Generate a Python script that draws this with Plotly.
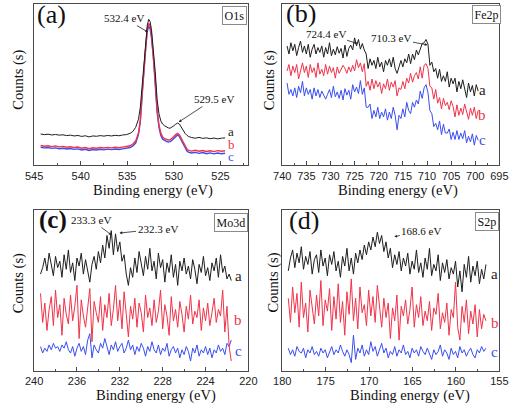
import plotly.graph_objects as go

# ---------------- data ----------------
# (a) O1s
o1s_energy = [544.3, 543.9, 543.5, 543.1, 542.7, 542.3, 541.9, 541.5, 541.1, 540.7,
              540.3, 539.9, 539.5, 539.1, 538.7, 538.3, 537.9, 537.5, 537.1, 536.7,
              536.3, 535.9, 535.5, 535.1, 534.7, 534.4, 534.1, 533.8, 533.6, 533.4,
              533.2, 533.0, 532.85, 532.7, 532.55, 532.4, 532.2, 532.0, 531.8, 531.6,
              531.4, 531.2, 531.0, 530.8, 530.6, 530.4, 530.2, 530.0, 529.8, 529.6,
              529.4, 529.2, 529.0, 528.8, 528.6, 528.4, 528.1, 527.7, 527.3, 526.9,
              526.5, 526.1, 525.7, 525.3, 524.9, 524.5]
o1s_a = [19.4, 19.0, 19.3, 18.8, 19.1, 18.7, 18.9, 18.4, 18.7, 18.2,
         18.5, 17.9, 18.3, 17.6, 18.2, 18.0, 18.4, 18.1, 18.5, 18.2,
         18.6, 18.3, 18.8, 19.0, 19.8, 21.0, 23.5, 28.5, 36.0, 50.0,
         66.0, 80.0, 87.0, 90.5, 89.0, 84.0, 73.0, 58.0, 41.0, 32.0,
         27.5, 25.5, 24.5, 23.8, 23.2, 23.0, 23.6, 24.5, 25.5, 26.2,
         25.5, 23.5, 21.5, 19.8, 18.6, 17.8, 17.2, 16.8, 17.3, 16.7,
         17.0, 16.5, 16.9, 16.4, 16.8, 17.0]
o1s_b = [12.3, 11.8, 12.1, 11.6, 12.0, 11.4, 11.7, 11.2, 11.5, 11.0,
         11.3, 10.6, 11.0, 10.3, 10.9, 10.6, 11.0, 10.7, 11.1, 10.8,
         11.2, 10.9, 11.3, 11.6, 12.1, 13.2, 15.0, 20.0, 28.0, 45.0,
         62.0, 77.0, 85.0, 88.0, 86.5, 81.0, 69.0, 53.0, 35.0, 25.0,
         20.0, 17.5, 16.5, 16.0, 15.7, 15.8, 16.6, 17.8, 19.0, 19.8,
         18.8, 16.5, 13.8, 11.5, 10.0, 9.2, 8.8, 9.3, 8.7, 9.2,
         8.6, 9.0, 8.5, 9.1, 8.7, 9.0]
o1s_c = [11.2, 10.8, 11.0, 10.5, 10.8, 10.3, 10.6, 10.1, 10.4, 9.9,
         10.2, 9.5, 9.9, 9.2, 9.8, 9.5, 9.9, 9.6, 10.0, 9.7,
         10.1, 9.8, 10.2, 10.5, 11.0, 12.0, 13.8, 19.0, 27.0, 44.0,
         61.0, 75.0, 83.0, 86.4, 84.5, 79.0, 67.0, 51.0, 33.0, 23.5,
         18.5, 16.2, 15.2, 14.8, 14.5, 14.7, 15.5, 16.8, 18.0, 18.8,
         17.8, 15.5, 12.6, 10.3, 8.8, 8.0, 7.6, 8.0, 7.4, 7.9,
         7.2, 7.7, 7.1, 7.6, 7.2, 7.5]

# (b) Fe2p  (scan start / step in eV)
fe_start, fe_step = 739.0, 0.4
fe2p_a = [74, 69, 76, 71, 75, 68, 73, 77, 70, 74,
          69, 75, 67, 72, 75, 69, 73, 70, 74, 67,
          73, 69, 76, 68, 72, 68.5, 73.5, 69.5, 72.5, 66.5,
          74.5, 67.5, 72.5, 74.5, 71.5, 79, 74, 78, 72, 75.5,
          71.5, 69, 60, 66, 62, 65, 60, 67, 61, 64,
          58, 65, 62, 66, 61, 67, 60, 57, 61, 65,
          61, 66, 63.5, 69, 63, 69, 65.5, 71.5, 68.5, 72.5,
          75.5, 76, 78, 75, 62, 64, 58, 60, 54, 59.5,
          52, 55.5, 52, 58, 48.5, 54, 50.5, 54, 45.5, 52,
          47.5, 53, 47.5, 42, 51, 45.5, 49.5, 43, 50, 46]
fe2p_b = [58.5, 62.5, 55.5, 61.5, 57.5, 62.5, 53.5, 58.5, 63.5, 57.5,
          61.5, 54.5, 62.5, 57.5, 60.5, 54.5, 63.5, 56.5, 59.5, 55.5,
          62.5, 56.5, 61.5, 57.5, 60.5, 54, 61, 57, 60, 62,
          60, 57, 61, 58, 62, 58.5, 65.5, 60.5, 63.5, 58,
          63, 49, 52, 46.5, 53.5, 47.5, 52.5, 48.5, 51.5, 44.5,
          50.5, 47.5, 53.5, 46.5, 51.5, 48.5, 52.5, 43, 48, 47,
          52, 47.5, 54, 51, 57, 51.5, 55.5, 57.5, 53.5, 61,
          54, 62, 63, 60, 49, 48, 41, 47, 38.5, 42,
          35, 41.5, 37, 39, 34.5, 40, 36.5, 30, 37.5, 31,
          35.5, 31.5, 38, 34, 28.5, 35.5, 31, 36, 29, 34]
fe2p_c = [51, 44, 47, 43, 48, 42, 49, 45, 52, 43,
          48, 44, 47, 41, 48, 43, 47, 42, 46, 43,
          41, 44, 47, 42, 49, 42.5, 45.5, 41.5, 46.5, 40.5,
          47.5, 43.5, 46.5, 41, 50, 45.5, 48.5, 44.5, 52.5, 44,
          48, 36, 36, 38, 29, 34, 30, 36, 29, 33,
          30, 35, 28, 33, 29, 36, 31, 22, 31, 29,
          35, 30, 39, 34, 32, 39, 36, 40.5, 38, 46,
          41.5, 48, 50, 45, 34, 32, 24, 26, 22, 27.5,
          19, 25.5, 20, 20, 22.5, 16, 20.5, 16, 21.5, 16,
          20, 16.5, 21.5, 14, 18, 14.5, 19.5, 12.5, 18.5, 15.5]

# (c) Mo3d
mo_start, mo_step = 239.4, 0.2
mo3d_a = [60, 64, 70, 62, 73, 66, 59, 71, 64, 68,
          58, 72, 63, 75, 61, 67, 56, 70, 65, 73,
          60, 69, 62, 55, 66, 71, 63, 74, 67, 78,
          70, 84, 76, 87, 72, 85, 74, 80, 68, 72,
          60, 53, 64, 58, 70, 61, 74, 66, 59, 71,
          63, 76, 62, 68, 57, 73, 64, 69, 55, 67,
          61, 72, 58, 66, 53, 68, 62, 70, 60, 65,
          57, 69, 63, 54, 66, 61, 71, 59, 64, 56,
          67, 62, 70, 58, 72, 61, 65, 57, 60, 56]
mo3d_b = [48, 30, 42, 25, 38, 46, 28, 50, 33, 41,
          22, 45, 35, 29, 47, 31, 40, 53, 20, 44,
          34, 27, 39, 51, 18, 43, 36, 30, 46, 25,
          41, 33, 48, 28, 38, 53, 31, 44, 26, 49,
          35, 21, 40, 32, 45, 27, 42, 36, 24, 47,
          33, 39, 28, 44, 30, 37, 50, 26, 41, 34,
          22, 46, 31, 38, 27, 43, 35, 24, 40, 32,
          47, 29, 37, 33, 44, 25, 39, 31, 42, 28,
          36, 45, 30, 38, 34, 50, 24, 40, 15, 6]
mo3d_c = [15, 11, 14, 12, 16, 13, 17, 14, 15, 12,
          16, 14, 18, 13, 11, 15, 9, 14, 17, 12,
          15, 10, 19, 23, 8, 16, 13, 11, 17, 14,
          20, 15, 10, 16, 13, 18, 12, 15, 17, 11,
          14, 19, 13, 16, 10, 15, 12, 17, 14, 9,
          15, 12, 18, 13, 11, 16, 10, 14, 12, 17,
          9, 13, 15, 11, 14, 8, 13, 10, 15, 12,
          6, 14, 11, 16, 9, 13, 11, 15, 10, 14,
          8, 13, 11, 16, 12, 14, 10, 17, 15, 19]

# (d) S2p
s_start, s_step = 179.3, 0.25
s2p_a = [62, 70, 75, 64, 73, 67, 77, 63, 71, 66,
         74, 60, 69, 72, 61, 75, 65, 70, 59, 72,
         66, 74, 62, 68, 58, 71, 65, 76, 62, 70,
         60, 73, 67, 75, 69, 78, 72, 80, 75, 83,
         77, 86, 79, 84, 74, 80, 70, 76, 64, 72,
         66, 74, 62, 70, 65, 73, 60, 68, 63, 75,
         61, 67, 58, 70, 63, 76, 59, 66, 62, 72,
         56, 67, 61, 69, 57, 64, 60, 68, 52, 62,
         49, 66, 58, 71, 55, 65, 59, 68, 54, 63,
         57, 66]
s2p_b = [45, 30, 52, 36, 48, 27, 55, 33, 42, 24,
         50, 38, 29, 47, 34, 56, 28, 44, 37, 51,
         25, 46, 32, 54, 30, 43, 22, 49, 35, 57,
         31, 45, 26, 52, 36, 41, 28, 50, 34, 46,
         30, 53, 38, 27, 45, 33, 42, 20, 39, 31,
         47, 19, 40, 34, 44, 29, 38, 52, 27, 41,
         33, 46, 28, 37, 31, 43, 25, 39, 35, 48,
         26, 36, 30, 42, 22, 38, 33, 55, 27, 19,
         40, 30, 44, 23, 37, 29, 41, 21, 38, 26,
         35, 31]
s2p_c = [14, 10, 13, 9, 15, 12, 11, 14, 8, 13,
         11, 15, 10, 12, 9, 14, 11, 13, 8, 12,
         15, 10, 13, 11, 16, 12, 9, 13, 10, 5,
         22, 7, 14, 11, 16, 9, 13, 10, 18, 12,
         15, 9, 13, 17, 11, 14, 8, 12, 10, 15,
         9, 13, 11, 16, 10, 12, 8, 14, 11, 13,
         9, 15, 12, 10, 14, 11, 7, 13, 10, 12,
         16, 9, 13, 11, 7, 14, 10, 12, 8, 15,
         11, 13, 9, 12, 14, 10, 8, 13, 11, 15,
         12, 14]


def scan(start, step, values):
    return [round(start - step * i, 3) for i in range(len(values))]


# ---------------- styling ----------------
W, H = 520, 409
FRAME = "#4a4a4a"
BLACK = "#1e1e1e"
RED = "#f0334a"
BLUE = "#3a4ef0"
SERIF = "Liberation Serif, Times New Roman, serif"
SANS = "Liberation Sans, Arial, sans-serif"


def P(px, py):
    return px / W, 1 - py / H


fig = go.Figure()


def add(xs, ys, color, n, width=1.0):
    fig.add_trace(go.Scatter(x=xs, y=ys, mode="lines",
                             line=dict(color=color, width=width),
                             xaxis="x" + ("" if n == 1 else str(n)),
                             yaxis="y" + ("" if n == 1 else str(n)),
                             showlegend=False, hoverinfo="skip"))


add(o1s_energy, o1s_c, BLUE, 1, 1.4)
add(o1s_energy, o1s_b, RED, 1, 1.4)
add(o1s_energy, o1s_a, BLACK, 1, 1.0)

add(scan(fe_start, fe_step, fe2p_c), fe2p_c, BLUE, 2)
add(scan(fe_start, fe_step, fe2p_b), fe2p_b, RED, 2)
add(scan(fe_start, fe_step, fe2p_a), fe2p_a, BLACK, 2)

add(scan(mo_start, mo_step, mo3d_c), mo3d_c, BLUE, 3)
add(scan(mo_start, mo_step, mo3d_b), mo3d_b, RED, 3)
add(scan(mo_start, mo_step, mo3d_a), mo3d_a, BLACK, 3)

add(scan(s_start, s_step, s2p_c), s2p_c, BLUE, 4)
add(scan(s_start, s_step, s2p_b), s2p_b, RED, 4)
add(scan(s_start, s_step, s2p_a), s2p_a, BLACK, 4)

LX = [26 / W, 248 / W]
RX = [283 / W, 508 / W]
TY = [1 - 165.3 / H, 1 - 4 / H]
BY = [1 - 370.7 / H, 1 - 209.7 / H]


def xax(domain, rng, dtick, mdtick, anchor):
    return dict(domain=domain, range=rng, anchor=anchor, showline=True, mirror=True,
                linecolor=FRAME, linewidth=1, ticks="inside", ticklen=4, tickwidth=1,
                tickcolor=FRAME, tick0=0, dtick=dtick,
                minor=dict(ticks="inside", ticklen=2, dtick=mdtick, tick0=0,
                           tickcolor=FRAME, showgrid=False),
                tickfont=dict(family=SANS, size=11, color="#222"),
                showgrid=False, zeroline=False, fixedrange=True)


def yax(domain, anchor):
    return dict(domain=domain, range=[0, 100], anchor=anchor, showline=True, mirror=True,
                linecolor=FRAME, linewidth=1, ticks="", showticklabels=False,
                showgrid=False, zeroline=False, fixedrange=True)


fig.update_layout(
    width=W, height=H, margin=dict(l=0, r=0, t=0, b=0),
    paper_bgcolor="white", plot_bgcolor="white",
    xaxis=xax(LX, [545, 522], 5, 2.5, "y"),
    yaxis=yax(TY, "x"),
    xaxis2=xax(RX, [740, 695], 5, 2.5, "y2"),
    yaxis2=yax(TY, "x2"),
    xaxis3=xax(LX, [240, 220], 4, 2, "y3"),
    yaxis3=yax(BY, "x3"),
    xaxis4=xax(RX, [180, 155], 5, 2.5, "y4"),
    yaxis4=yax(BY, "x4"),
)

ann = []


def text(px, py, s, size, color="#111", family=SERIF, angle=0, box=False, bold=False):
    x, y = P(px, py)
    d = dict(x=x, y=y, xref="paper", yref="paper", text=("<b>%s</b>" % s) if bold else s,
             showarrow=False, textangle=angle, xanchor="center", yanchor="middle",
             font=dict(family=family, size=size, color=color))
    if box:
        d.update(bordercolor="#8a8a8a", borderwidth=1, borderpad=1.5, bgcolor="white")
    ann.append(d)


# panel letters
text(44.5, 14, "(a)", 26)
text(302.5, 13.5, "(b)", 26)
text(46, 219.5, "(c)", 25, bold=True)
text(306, 220.5, "(d)", 26)

# element boxes
text(234, 16, "O1s", 12, box=True)
text(494.5, 14.5, "Fe2p", 12, box=True)
text(230, 222.5, "Mo3d", 12, box=True)
text(495, 221.5, "S2p", 12, box=True)

# axis titles
for cx, cy in [(149, 190), (403, 190), (152, 395), (415, 395)]:
    text(cx, cy, "Binding energy (eV)", 14.5)
for cx, cy in [(9, 80), (269.5, 80), (9.5, 283), (273, 283)]:
    text(cx, cy, "Counts (s)", 14.5, angle=-90)

# series labels (panel a stacked tightly, as in the reference)
for (px, py, s, c, fs) in [(230, 132, "a", BLACK, 13), (230, 144, "b", RED, 13), (230, 156, "c", BLUE, 13),
                           (490, 90, "a", BLACK, 15), (490, 115, "b", RED, 15), (490, 140, "c", BLUE, 15),
                           (238, 276, "a", BLACK, 15), (237, 320, "b", RED, 15), (238, 351, "c", BLUE, 15),
                           (503, 274, "a", BLACK, 15), (503, 323, "b", RED, 15), (503, 352, "c", BLUE, 15)]:
    text(px, py, s, fs, color=c)


def peak(n, x, y, ax, ay, s):
    suf = "" if n == 1 else str(n)
    ann.append(dict(x=x, y=y, xref="x" + suf, yref="y" + suf, text=s, showarrow=True,
                    ax=ax, ay=ay, arrowhead=2, arrowsize=0.7, arrowwidth=0.8,
                    arrowcolor="#222", standoff=0, startstandoff=0,
                    font=dict(family=SERIF, size=11, color="#111")))


peak(1, 532.77, 82.6, -24, -14, "532.4 eV")
peak(1, 529.48, 26.8, 35, -23, "529.5 eV")
peak(2, 724.4, 75.5, -32, -10, "724.4 eV")
peak(2, 709.9, 74.6, -36, -7, "710.3 eV")
peak(3, 232.78, 84.3, -20, -15, "233.3 eV")
peak(3, 232.03, 85.5, 38, -4, "232.3 eV")
peak(4, 167.1, 83.2, 27, -6, "168.6 eV")

fig.update_layout(annotations=ann)
fig.write_html("out.html", config={"displayModeBar": False},
               post_script="document.body.style.margin='0';document.body.style.overflow='hidden';")
